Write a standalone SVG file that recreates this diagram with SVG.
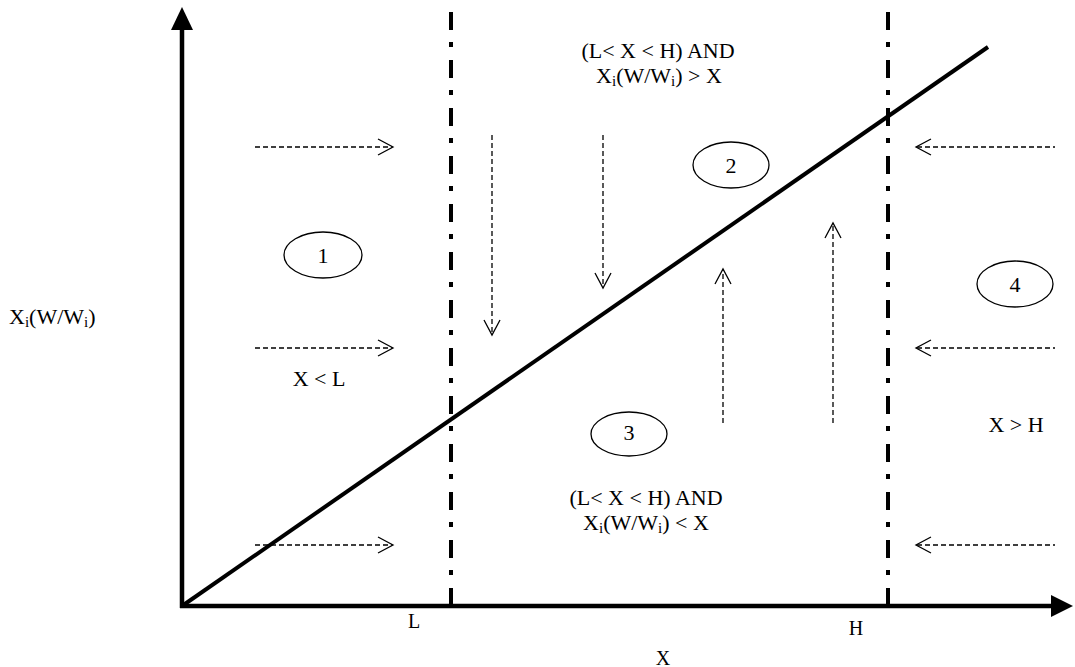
<svg xmlns="http://www.w3.org/2000/svg" width="1075" height="667" viewBox="0 0 1075 667">
<style>
text{font-family:"Liberation Serif","Times New Roman",serif;font-size:22px;fill:#000}
.lab{font-size:20px}
.axis{stroke:#000;stroke-width:4.5;fill:none}
.dd{stroke:#000;stroke-width:4;fill:none;stroke-dasharray:18 12 5 13}
.diag{stroke:#000;stroke-width:4;fill:none}
.da{stroke:#000;stroke-width:1.3;fill:none;stroke-dasharray:5 3}
.ah{stroke:#000;stroke-width:1.3;fill:none}
.el{stroke:#000;stroke-width:1.3;fill:#fff}
</style>
<rect width="1075" height="667" fill="#fff"/>
<g id="axes">
<line class="axis" x1="182" y1="608" x2="182" y2="26"/>
<polygon points="182,7 171,30 193,30" fill="#000"/>
<line class="axis" x1="180" y1="606" x2="1054" y2="606"/>
<polygon points="1073,606 1051,595 1051,617" fill="#000"/>
</g>
<g id="boundaries">
<line class="dd" x1="451" y1="12" x2="451" y2="606"/>
<line class="dd" x1="888" y1="12" x2="888" y2="606"/>
</g>
<g id="diagonal">
<line class="diag" x1="182" y1="606" x2="988" y2="47"/>
</g>
<g id="connectors">
<line class="da" x1="255" y1="147" x2="392" y2="147"/>
<polyline class="ah" points="378,139 393,147 378,155"/>
<line class="da" x1="255" y1="348" x2="392" y2="348"/>
<polyline class="ah" points="378,340 393,348 378,356"/>
<line class="da" x1="255" y1="545" x2="392" y2="545"/>
<polyline class="ah" points="378,537 393,545 378,553"/>
<line class="da" x1="917" y1="147" x2="1055" y2="147"/>
<polyline class="ah" points="931,139 916,147 931,155"/>
<line class="da" x1="917" y1="348" x2="1055" y2="348"/>
<polyline class="ah" points="931,340 916,348 931,356"/>
<line class="da" x1="917" y1="545" x2="1055" y2="545"/>
<polyline class="ah" points="931,537 916,545 931,553"/>
<line class="da" x1="492" y1="135" x2="492" y2="334"/>
<polyline class="ah" points="484,320 492,335 500,320"/>
<line class="da" x1="603" y1="135" x2="603" y2="287"/>
<polyline class="ah" points="595,273 603,288 611,273"/>
<line class="da" x1="723" y1="423" x2="723" y2="270"/>
<polyline class="ah" points="715,284 723,269 731,284"/>
<line class="da" x1="833" y1="423" x2="833" y2="224"/>
<polyline class="ah" points="825,238 833,223 841,238"/>
</g>
<g id="region1">
<ellipse class="el" cx="323" cy="255" rx="39" ry="23"/>
<text x="323" y="263" text-anchor="middle">1</text>
<text x="319" y="386" text-anchor="middle">X &lt; L</text>
</g>
<g id="region2">
<ellipse class="el" cx="731" cy="165" rx="38" ry="23"/>
<text x="731" y="173" text-anchor="middle">2</text>
<text x="658" y="58" text-anchor="middle">(L&lt; X &lt; H) AND</text>
<text x="659" y="83" text-anchor="middle">X<tspan font-size="15" dy="3">i</tspan><tspan dy="-3">(W/W</tspan><tspan font-size="15" dy="3">i</tspan><tspan dy="-3">) &gt; X</tspan></text>
</g>
<g id="region3">
<ellipse class="el" cx="629" cy="434" rx="38" ry="22"/>
<text x="629" y="440" text-anchor="middle">3</text>
<text x="646" y="505" text-anchor="middle">(L&lt; X &lt; H) AND</text>
<text x="646" y="530" text-anchor="middle">X<tspan font-size="15" dy="3">i</tspan><tspan dy="-3">(W/W</tspan><tspan font-size="15" dy="3">i</tspan><tspan dy="-3">) &lt; X</tspan></text>
</g>
<g id="region4">
<ellipse class="el" cx="1015" cy="284" rx="38" ry="23"/>
<text x="1015" y="292" text-anchor="middle">4</text>
<text x="1016" y="432" text-anchor="middle">X &gt; H</text>
</g>
<g id="labels">
<text x="9" y="324">X<tspan font-size="15" dy="3">i</tspan><tspan dy="-3">(W/W</tspan><tspan font-size="15" dy="3">i</tspan><tspan dy="-3">)</tspan></text>
<text class="lab" x="414" y="628" text-anchor="middle">L</text>
<text class="lab" x="856" y="635" text-anchor="middle">H</text>
<text class="lab" x="663" y="665" text-anchor="middle">X</text>
</g>
</svg>
